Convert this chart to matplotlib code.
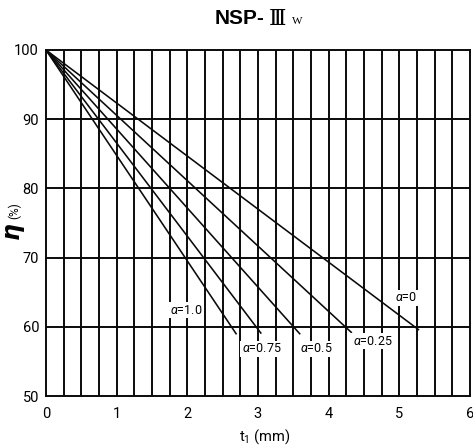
import matplotlib
matplotlib.use('Agg')
import matplotlib.pyplot as plt
import numpy as np

# straight lines from (0, 100) to an end point, one per alpha
alphas = ['1.0', '0.75', '0.5', '0.25', '0']
t_start = [0.0, 0.0, 0.0, 0.0, 0.0]
eta_start = [100.0, 100.0, 100.0, 100.0, 100.0]
t_end = [2.69, 3.04, 3.59, 4.32, 5.27]
eta_end = [59.0, 59.1, 59.0, 59.2, 59.6]

x_ticks = [0, 1, 2, 3, 4, 5, 6]
y_ticks = [50, 60, 70, 80, 90, 100]

NARROW = ['Roboto', 'DejaVu Sans']
plt.rcParams['mathtext.fontset'] = 'custom'
plt.rcParams['mathtext.it'] = 'Roboto:italic'
plt.rcParams['mathtext.rm'] = 'Roboto'

fig = plt.figure(figsize=(4.73, 4.48), dpi=100)
ax = fig.add_axes([46 / 473, 52 / 448, 424 / 473, 346 / 448])

ax.set_xlim(0, 6)
ax.set_ylim(50, 100)

# grid: every 0.25 mm vertically, every 10 % horizontally
for xv in np.arange(0.25, 6.0, 0.25):
    ax.axvline(xv, color='#0a0a0a', linewidth=1.4, zorder=1)
for yv in y_ticks[1:-1]:
    ax.axhline(yv, color='#0a0a0a', linewidth=1.4, zorder=1)

for spine in ax.spines.values():
    spine.set_linewidth(1.4)
    spine.set_color('#0a0a0a')

for i in range(len(alphas)):
    ax.plot([t_start[i], t_end[i]], [eta_start[i], eta_end[i]],
            color='#0a0a0a', linewidth=1.15, zorder=2)

# curve labels (centres in data coords)
label_pos = [(1.99, 62.4), (3.05, 56.85), (3.83, 56.85), (4.62, 57.9), (5.09, 64.2)]
for a, (lx, ly) in zip(alphas, label_pos):
    ax.text(lx, ly, f'$\\alpha$={a}', ha='center', va='center',
            fontsize=9, family=NARROW, zorder=4,
            bbox=dict(boxstyle='square,pad=0.12', fc='white', ec='none'))

ax.set_xticks(x_ticks)
ax.set_yticks(y_ticks)
ax.tick_params(length=0, labelsize=10.5)
ax.tick_params(axis='x', pad=8)
ax.tick_params(axis='y', pad=5)
for lab in ax.get_xticklabels() + ax.get_yticklabels():
    lab.set_family(NARROW)

# x label
fig.text(265 / 473, 1 - 437 / 448, 't$_1$ (mm)', ha='center', va='center',
         fontsize=10.5, family=NARROW)

# y label: eta then (%) rotated
fig.text(15 / 473, 1 - 232 / 448, '$\\boldsymbol{\\eta}$', ha='center', va='center',
         fontsize=17, rotation=90, fontweight='bold', style='italic')
fig.text(15 / 473, 1 - 211 / 448, '(%)', ha='center', va='center',
         fontsize=8.5, rotation=90, family=NARROW)

# title pieces
fig.text(240 / 473, 1 - 19 / 448, 'NSP-', ha='center', va='center',
         fontsize=15, fontweight='bold', family=['Liberation Sans', 'DejaVu Sans'])
fig.text(277 / 473, 1 - 19 / 448, '\u2162', ha='center', va='center',
         fontsize=16, family=['DejaVu Serif', 'DejaVu Sans'])
fig.text(297 / 473, 1 - 22 / 448, 'W', ha='center', va='center',
         fontsize=8, family=['Liberation Serif', 'DejaVu Serif'])

fig.savefig('out.png', dpi=100)
